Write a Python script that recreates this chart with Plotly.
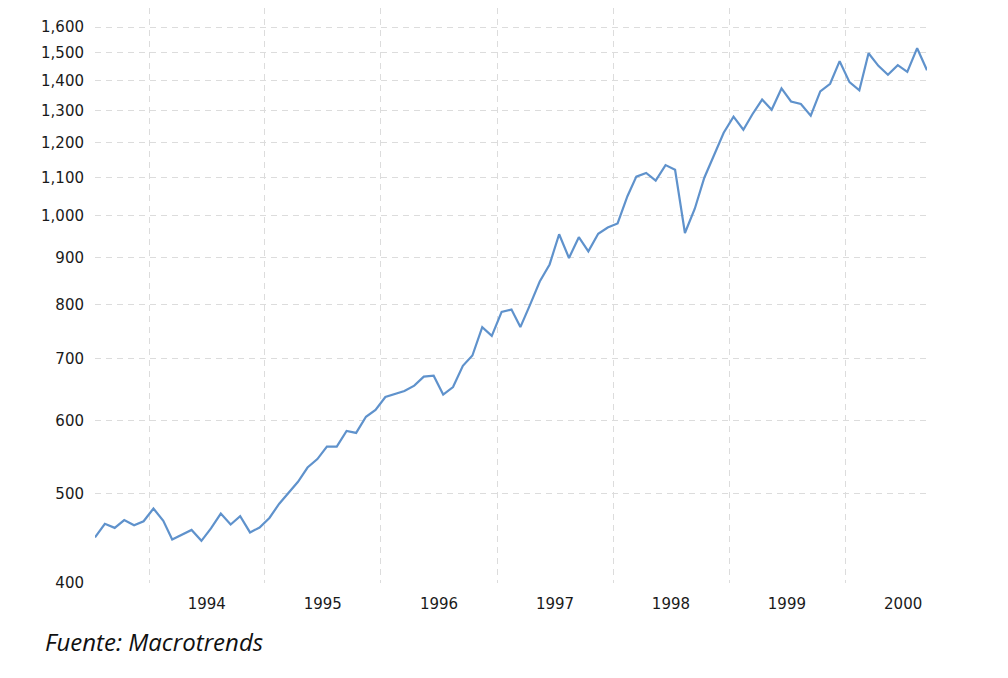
import plotly.graph_objects as go

# S&P 500 monthly close, Jul 1993 - Sep 2000
months = [
    "1993-07", "1993-08", "1993-09", "1993-10", "1993-11", "1993-12",
    "1994-01", "1994-02", "1994-03", "1994-04", "1994-05", "1994-06",
    "1994-07", "1994-08", "1994-09", "1994-10", "1994-11", "1994-12",
    "1995-01", "1995-02", "1995-03", "1995-04", "1995-05", "1995-06",
    "1995-07", "1995-08", "1995-09", "1995-10", "1995-11", "1995-12",
    "1996-01", "1996-02", "1996-03", "1996-04", "1996-05", "1996-06",
    "1996-07", "1996-08", "1996-09", "1996-10", "1996-11", "1996-12",
    "1997-01", "1997-02", "1997-03", "1997-04", "1997-05", "1997-06",
    "1997-07", "1997-08", "1997-09", "1997-10", "1997-11", "1997-12",
    "1998-01", "1998-02", "1998-03", "1998-04", "1998-05", "1998-06",
    "1998-07", "1998-08", "1998-09", "1998-10", "1998-11", "1998-12",
    "1999-01", "1999-02", "1999-03", "1999-04", "1999-05", "1999-06",
    "1999-07", "1999-08", "1999-09", "1999-10", "1999-11", "1999-12",
    "2000-01", "2000-02", "2000-03", "2000-04", "2000-05", "2000-06",
    "2000-07", "2000-08", "2000-09",
]
closes = [
    448.1, 463.6, 458.9, 467.8, 461.8, 466.5,
    481.6, 467.1, 445.8, 450.9, 456.5, 444.3,
    458.3, 475.5, 462.7, 472.4, 453.7, 459.3,
    470.4, 487.4, 500.7, 514.7, 533.4, 544.8,
    562.1, 561.9, 584.4, 581.5, 605.4, 615.9,
    636.0, 640.4, 645.5, 654.2, 669.1, 670.6,
    639.9, 652.0, 687.3, 705.3, 757.0, 740.7,
    786.2, 790.8, 757.1, 801.3, 848.3, 885.1,
    954.3, 899.5, 947.3, 914.6, 955.4, 970.4,
    980.3, 1049.3, 1101.8, 1111.8, 1090.8, 1133.8,
    1120.7, 957.3, 1017.0, 1098.7, 1163.6, 1229.2,
    1279.6, 1238.3, 1286.4, 1335.2, 1301.8, 1372.7,
    1328.7, 1320.4, 1282.7, 1362.9, 1388.9, 1469.3,
    1394.5, 1366.4, 1498.6, 1452.4, 1420.6, 1454.6,
    1430.8, 1517.7, 1436.5,
]
y_ticks = [400, 500, 600, 700, 800, 900, 1000, 1100, 1200, 1300, 1400, 1500, 1600]
years = ["1994", "1995", "1996", "1997", "1998", "1999", "2000"]

dates = [m + "-15" for m in months]
GRID = "#dcdcdc"

fig = go.Figure()
fig.add_trace(go.Scatter(
    x=dates, y=closes, mode="lines",
    line=dict(color="#5f92cc", width=2.2),
    hoverinfo="x+y",
))

fig.update_layout(
    width=1008, height=678,
    margin=dict(l=87, r=89, t=0, b=103),
    paper_bgcolor="white", plot_bgcolor="white",
    showlegend=False,
    font=dict(family="DejaVu Sans", size=15, color="#1a1a1a"),
    xaxis=dict(
        type="date",
        range=[dates[0], dates[-1]],
        tickmode="array",
        tickvals=[y + "-07-02" for y in years],
        ticktext=years,
        showgrid=False, zeroline=False, showline=False,
        ticks="", ticklabelstandoff=10,
        minor=dict(
            tickmode="array",
            tickvals=[y + "-01-01" for y in years],
            showgrid=True, gridcolor=GRID, gridwidth=1,
            griddash="6px,5px", ticks="",
        ),
    ),
    yaxis=dict(
        type="log",
        range=[2.602, 3.2247],
        tickmode="array",
        tickvals=y_ticks,
        ticktext=[f"{v:,}" for v in y_ticks],
        showgrid=True, gridcolor=GRID, gridwidth=1, griddash="6px,5px",
        zeroline=False, showline=False, ticks="", ticklabelstandoff=10,
    ),
    annotations=[dict(
        text="<i>Fuente: Macrotrends</i>",
        xref="paper", yref="paper", x=-0.0625, y=-0.0696,
        xanchor="left", yanchor="top", showarrow=False,
        font=dict(family="Open Sans", size=24, color="#111111"),
    )],
)

fig.write_html("out.html")
